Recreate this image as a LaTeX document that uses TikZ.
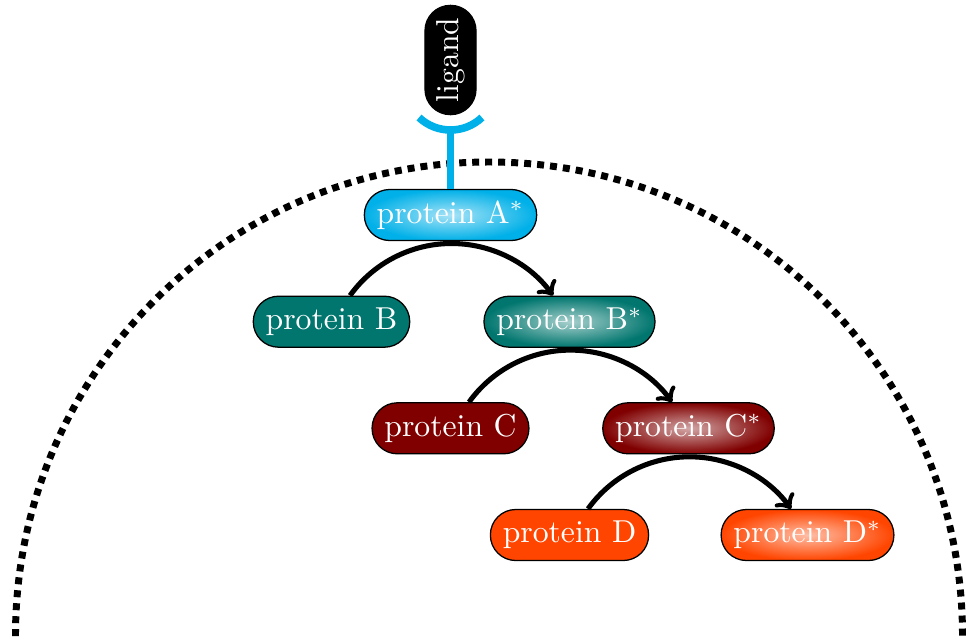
\documentclass[tikz,border=0pt]{standalone}
\usetikzlibrary{calc}
\definecolor{recblue}{RGB}{0,176,232}
\definecolor{protteal}{RGB}{0,118,110}
\definecolor{protred}{RGB}{128,0,0}
\definecolor{protorange}{RGB}{255,69,0}
\begin{document}
\begin{tikzpicture}[x=0.3155pt,y=0.3155pt,
  protein/.style={draw=black, line width=0.4pt, rounded corners=8pt,
    minimum height=16.1pt, inner xsep=3.9pt, inner ysep=0pt,
    text=white, font=\fontsize{10}{12}\selectfont},
  active/.style={inner color=#1!35!white, outer color=#1},
  inactive/.style={fill=#1},
  reaction/.style={->, line width=1.6pt},
  membrane/.style={line width=2.2pt, dash pattern=on 2.2pt off 1.9pt},
  receptor/.style={draw=recblue, line width=2.4pt}]
\useasboundingbox (0,0) rectangle (966,-640);

% cell membrane
\begin{scope}
  \clip (0,0) rectangle (966,-640);
  \draw[membrane] (489,-635.5) circle[radius=473.5];
\end{scope}

% ligand and receptor
\node[protein, fill=black, rotate=90] (lig) at (450.5,-60) {ligand};
\coordinate (cup) at (450.5,-130);
\draw[receptor] (419,-117.5) arc[start angle=226.7, end angle=313.3, radius=45.9];

% signalling cascade
\node[protein, active=recblue] (pA) at (450.5,-215) {protein A$^*$};
\draw[receptor] (cup) -- (pA.north);

\node[protein, inactive=protteal] (pB) at (331.5,-321.7) {protein B};
\node[protein, active=protteal] (pBs) at (569.5,-321.7) {protein B$^*$};

\node[protein, inactive=protred] (pC) at (450.5,-428.3) {protein C};
\node[protein, active=protred] (pCs) at (688.5,-428.3) {protein C$^*$};

\node[protein, inactive=protorange] (pD) at (569.5,-535) {protein D};
\node[protein, active=protorange] (pDs) at (807.5,-535) {protein D$^*$};

% activation steps
\draw[reaction] ($(pB.north)+(18.5,0)$) arc[start angle=144.3, end angle=35.7, radius=125];
\draw[reaction] ($(pC.north)+(18.5,0)$) arc[start angle=144.3, end angle=35.7, radius=125];
\draw[reaction] ($(pD.north)+(18.5,0)$) arc[start angle=144.3, end angle=35.7, radius=125];
\end{tikzpicture}
\end{document}
